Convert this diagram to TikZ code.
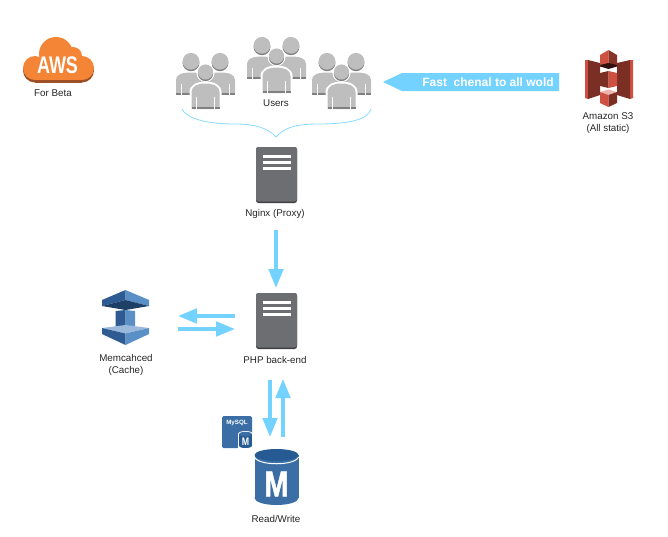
\documentclass[tikz,border=0pt]{standalone}
\usepackage{fontspec}
\setmainfont{Liberation Sans}
\usetikzlibrary{arrows.meta,calc}

\definecolor{flowblue}{HTML}{73D2FF}
\definecolor{usergrey}{HTML}{BEBEBF}
\definecolor{userdark}{HTML}{808082}
\definecolor{servergrey}{HTML}{6D6E71}
\definecolor{serverdark}{HTML}{3F3F41}
\definecolor{awsorange}{HTML}{F58536}
\definecolor{awsdark}{HTML}{9D5025}
\definecolor{sthreered}{HTML}{CE5040}
\definecolor{sthreedark}{HTML}{7A2E24}
\definecolor{sthreelight}{HTML}{EFB5AB}
\definecolor{memdark}{HTML}{2E5C92}
\definecolor{memmid}{HTML}{5A90C6}
\definecolor{memlight}{HTML}{9BB9DC}
\definecolor{memnavy}{HTML}{1E3F66}
\definecolor{dbblue}{HTML}{3A6EA5}
\definecolor{dbdark}{HTML}{255A93}

\tikzset{
    caption/.style={font=\fontsize{9.8}{12}\selectfont,text=black!85,align=center,inner sep=0pt},
    flow/.style={draw=flowblue,line width=3.5pt,-{Triangle[length=19pt,width=14.5pt]}},
    usergroup/.pic={
        % back row
        \foreach \x in {15,44}{
            \fill[userdark] (\x,9.8) circle (8.4);
            \fill[usergrey] (\x,8.3) circle (8.4);
            \fill[usergrey] (\x-15,41) -- (\x-15,27) .. controls (\x-15,22) and (\x-10,19.5) .. (\x,19.5)
                .. controls (\x+10,19.5) and (\x+15,22) .. (\x+15,27) -- (\x+15,41) -- cycle;
            \fill[userdark] (\x-15,39.5) rectangle (\x+15,41.5);
            \fill[white] (\x-10,31) rectangle (\x-9.3,41.5);
            \fill[white] (\x+9.3,31) rectangle (\x+10,41.5);
        }
        % front person
        \fill[white] (29.5,20) circle (9);
        \fill[white] (13.5,57) -- (13.5,39) .. controls (13.5,32) and (21,28.5) .. (29.5,28.5)
            .. controls (38,28.5) and (45.5,32) .. (45.5,39) -- (45.5,57) -- cycle;
        \fill[userdark] (29.5,20.5) circle (7.6);
        \fill[usergrey] (29.5,19) circle (7.6);
        \fill[usergrey] (15.5,56) -- (15.5,39) .. controls (15.5,33) and (22,30.5) .. (29.5,30.5)
            .. controls (37,30.5) and (43.5,33) .. (43.5,39) -- (43.5,56) -- cycle;
        \fill[userdark] (15.5,54) rectangle (43.5,56);
        \fill[white] (20,44) rectangle (20.8,56);
        \fill[white] (38.2,44) rectangle (39,56);
    },
    serverpic/.pic={
        \fill[serverdark,rounded corners=2.5pt] (0,0) rectangle (41,56);
        \fill[servergrey,rounded corners=2.5pt] (0,0) rectangle (41,54.5);
        \foreach \y in {8,14,20}{
            \fill[white] (6.5,\y) rectangle (35,\y+3);
        }
    },
    awspic/.pic={
        \fill[awsdark] (12,33.5) circle (12);
        \fill[awsdark] (59,33.5) circle (12);
        \fill[awsdark] (12,30) rectangle (59,45.5);
        \fill[awsorange] (12,31) circle (12);
        \fill[awsorange] (59,31) circle (12);
        \fill[awsorange] (33,17) circle (17);
        \fill[awsorange] (50,19) circle (9);
        \fill[awsorange] (12,22) rectangle (59,43);
    },
    sthreepic/.pic={
        \fill[sthreered] (0,10) -- (3,10) -- (3,49) -- (0,48) -- cycle;
        \fill[sthreedark] (3,10) -- (15,13) -- (15,45) -- (3,49) -- cycle;
        \fill[sthreered] (48,10) -- (45,10) -- (45,49) -- (48,48) -- cycle;
        \fill[sthreedark] (45,10) -- (32,13) -- (32,45) -- (45,49) -- cycle;
        % top block
        \fill[sthreered] (15,5) -- (23.5,0) -- (23.5,15) -- (15,15) -- cycle;
        \fill[sthreedark!85!sthreered] (32,5) -- (23.5,0) -- (23.5,15) -- (32,15) -- cycle;
        \fill[black!60!sthreedark] (15,15) -- (23.5,13) -- (32,15) -- (32,16.5) -- (23.5,19) -- (15,16.5) -- cycle;
        % middle block
        \fill[sthreedark] (15,23) -- (23.5,21) -- (23.5,38) -- (15,36) -- cycle;
        \fill[sthreered] (32,23) -- (23.5,21) -- (23.5,38) -- (32,36) -- cycle;
        % bottom block
        \fill[sthreelight] (15,42) -- (23.5,39.5) -- (32,42) -- (23.5,45) -- cycle;
        \fill[sthreered] (15,42) -- (23.5,45) -- (23.5,57) -- (15,53) -- cycle;
        \fill[sthreedark] (32,42) -- (23.5,45) -- (23.5,57) -- (32,53) -- cycle;
    },
    memcachepic/.pic={
        \fill[memdark] (0,10) -- (23.5,0) -- (23.5,10) -- (0,16) -- cycle;
        \fill[memmid] (47,10) -- (23.5,0) -- (23.5,10) -- (47,16) -- cycle;
        \fill[memnavy] (0,16) -- (23.5,10) -- (47,16) -- (23.5,20) -- cycle;
        \fill[memdark] (13.5,21) -- (23.5,20) -- (23.5,37) -- (13.5,37) -- cycle;
        \fill[memmid] (33,21) -- (23.5,20) -- (23.5,37) -- (33,37) -- cycle;
        \fill[memlight] (0,38) -- (23.5,35) -- (47,38) -- (23.5,43.5) -- cycle;
        \fill[memdark] (0,38) -- (23.5,43.5) -- (23.5,55) -- (0,44) -- cycle;
        \fill[memmid] (47,38) -- (23.5,43.5) -- (23.5,55) -- (47,44) -- cycle;
    },
}

\begin{document}
\begin{tikzpicture}[x=1pt,y=-1pt]
    \useasboundingbox (0,0) rectangle (668,536);

    % top row
    \pic at (23,37) {awspic};
    \node[text=white,font=\fontsize{24}{24}\selectfont\bfseries,xscale=0.75,inner sep=0pt] (awstext) at (57.5,65) {AWS};
    \node[caption] (beta) at (53,93) {For Beta};

    \pic at (176,53) {usergroup};
    \pic at (247,37) {usergroup};
    \pic at (312,53) {usergroup};
    \node[caption] (users) at (276,103) {Users};
    \draw[flowblue!85!white,line width=0.8pt] (182,109) .. controls (186,118) and (205,124) .. (235,124)
        .. controls (255,124) and (268,128) .. (276,137)
        .. controls (284,128) and (295,124) .. (318,124)
        .. controls (348,124) and (368,120) .. (371,109);

    \fill[flowblue] (383,82) -- (402,73) -- (559,73) -- (559,91) -- (402,91) -- cycle;
    \node[text=white,font=\fontsize{12}{12}\selectfont\bfseries,inner sep=0pt] (fast) at (488,82) {Fast\ \ chenal to all wold};

    \pic at (585,50) {sthreepic};
    \node[caption] (sthree) at (608,123) {Amazon S3\\(All static)};

    % servers
    \pic at (256,147) {serverpic};
    \node[caption] (nginx) at (275,214) {Nginx (Proxy)};
    \pic at (256,293) {serverpic};
    \node[caption] (php) at (275,360) {PHP back-end};

    \coordinate (nginxout) at (276,230);
    \coordinate (phpin) at (276,288);
    \draw[flow] (nginxout) -- (phpin);

    % cache
    \pic at (102,290) {memcachepic};
    \node[caption] (cache) at (126,365) {Memcahced\\(Cache)};

    \coordinate (cacheone) at (178,316);
    \coordinate (phpone) at (235,316);
    \coordinate (cachetwo) at (178,329);
    \coordinate (phptwo) at (235,329);
    \draw[flow] (phpone) -- (cacheone);
    \draw[flow] (cachetwo) -- (phptwo);

    % database
    \coordinate (phpdown) at (270,380);
    \coordinate (dbdown) at (270,437);
    \coordinate (dbup) at (283,437);
    \coordinate (phpup) at (283,379);
    \draw[flow] (phpdown) -- (dbdown);
    \draw[flow] (dbup) -- (phpup);

    \fill[dbblue,rounded corners=1.5pt] (222,416) rectangle (252,448);
    \node[text=white,font=\fontsize{6.2}{7}\selectfont\bfseries,inner sep=0pt] (mysql) at (237,422.5) {MySQL};
    \fill[white] (238,434) rectangle (253,448.5);
    \fill[white] (245.5,434) ellipse (7.5 and 3);
    \fill[dbdark] (239,434) rectangle (252,446);
    \fill[dbdark] (245.5,446) ellipse (6.5 and 2);
    \fill[dbblue] (245.5,434) ellipse (6.5 and 2.2);
    \node[text=white,font=\fontsize{11}{11}\selectfont\bfseries,xscale=0.8,inner sep=0pt] (mysqlm) at (245.5,442) {M};

    \fill[dbblue] (254.5,455) rectangle (298.5,498);
    \fill[dbblue] (276.5,498) ellipse (22 and 7);
    \draw[white,line width=1pt] (254.5,457) .. controls (258,466) and (295,466) .. (298.5,457);
    \fill[dbdark] (276.5,455) ellipse (22 and 6);
    \node[text=white,font=\fontsize{36}{36}\selectfont\addfontfeature{FakeBold=1.5}\bfseries,xscale=0.8,inner sep=0pt] (dbm) at (276.5,484) {M};
    \node[caption] (rw) at (276,519) {Read/Write};
\end{tikzpicture}
\end{document}
